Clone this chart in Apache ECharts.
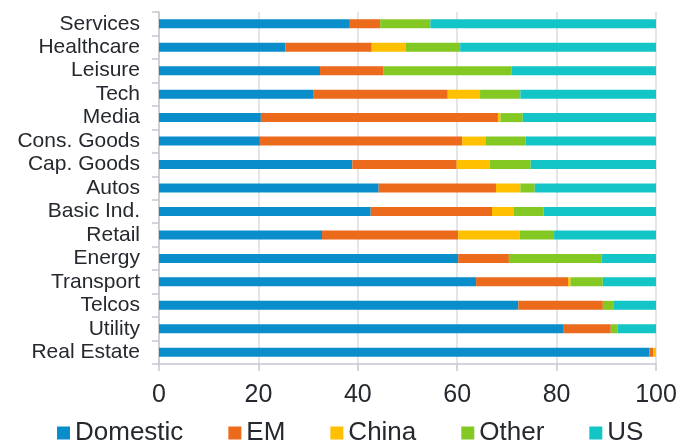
<!DOCTYPE html>
<html>
<head>
<meta charset="utf-8">
<style>
  html, body { margin: 0; padding: 0; background: #ffffff; }
  #chart { width: 694px; height: 444px; }
</style>
<script src="https://cdn.jsdelivr.net/npm/echarts@6/dist/echarts.min.js"></script>
</head>
<body>
<div id="chart"></div>
<script>
// Sector revenue split by region (% of total), listed top to bottom
const sectors = ['Services', 'Healthcare', 'Leisure', 'Tech', 'Media', 'Cons. Goods', 'Cap. Goods',
  'Autos', 'Basic Ind.', 'Retail', 'Energy', 'Transport', 'Telcos', 'Utility', 'Real Estate'];

const domestic = [38.4, 25.4, 32.4, 31.0, 20.5, 20.3, 38.9, 44.2, 42.6, 32.8, 60.2, 63.8, 72.3, 81.3, 98.7];
const em       = [6.1, 17.4, 12.8, 27.1, 47.7, 40.7, 21.0, 23.6, 24.4, 27.4, 10.2, 18.5, 17.0, 9.6, 0.7];
const china    = [0, 6.8, 0, 6.5, 0.5, 4.8, 6.6, 4.9, 4.3, 12.4, 0, 0.5, 0, 0, 0.6];
const other    = [10.1, 11.0, 25.7, 8.1, 4.5, 8.0, 8.3, 2.9, 6.1, 6.9, 18.7, 6.5, 2.1, 1.4, 0];
const us       = [45.4, 39.4, 29.1, 27.3, 26.8, 26.2, 25.2, 24.4, 22.6, 20.5, 10.9, 10.7, 8.6, 7.7, 0];

const xTicks = [0, 20, 40, 60, 80, 100];

const seriesDefs = [
  { name: 'Domestic', data: domestic, color: '#0a8dcb' },
  { name: 'EM',       data: em,       color: '#eb6a1c' },
  { name: 'China',    data: china,    color: '#ffc000' },
  { name: 'Other',    data: other,    color: '#84c824' },
  { name: 'US',       data: us,       color: '#13c5c6' }
];

const textColor = '#25282e';
const font = 'Liberation Sans, Arial, sans-serif';

const chart = echarts.init(document.getElementById('chart'), null, { renderer: 'canvas' });

chart.setOption({
  animation: false,
  backgroundColor: '#ffffff',
  grid: { left: 159, right: 38, top: 12, bottom: 80, containLabel: false },
  legend: {
    left: 57,
    top: 420,
    padding: 0,
    itemWidth: 13,
    itemHeight: 13,
    itemGap: 45,
    icon: 'rect',
    textStyle: { color: textColor, fontSize: 26, fontFamily: font },
    data: seriesDefs.map(s => s.name)
  },
  xAxis: {
    type: 'value',
    min: xTicks[0],
    max: xTicks[xTicks.length - 1],
    interval: xTicks[1] - xTicks[0],
    axisLine: { show: true, lineStyle: { color: '#c3c7ce', width: 1.5 } },
    axisTick: { show: true, length: 7, lineStyle: { color: '#c3c7ce', width: 1.5 } },
    splitLine: { show: true, lineStyle: { color: '#dcdcdc', width: 1.5 } },
    axisLabel: { color: textColor, fontSize: 25, fontFamily: font, margin: 19 }
  },
  yAxis: {
    type: 'category',
    inverse: true,
    data: sectors,
    axisLine: { show: true, lineStyle: { color: '#c3c7ce', width: 1.5 } },
    axisTick: { show: true, length: 7, interval: 0, lineStyle: { color: '#c3c7ce', width: 1.5 } },
    axisLabel: { color: textColor, fontSize: 21, fontFamily: font, margin: 19, interval: 0 }
  },
  series: seriesDefs.map(s => ({
    name: s.name,
    type: 'bar',
    stack: 'total',
    barWidth: 9,
    data: s.data,
    itemStyle: { color: s.color }
  }))
});
</script>
</body>
</html>
